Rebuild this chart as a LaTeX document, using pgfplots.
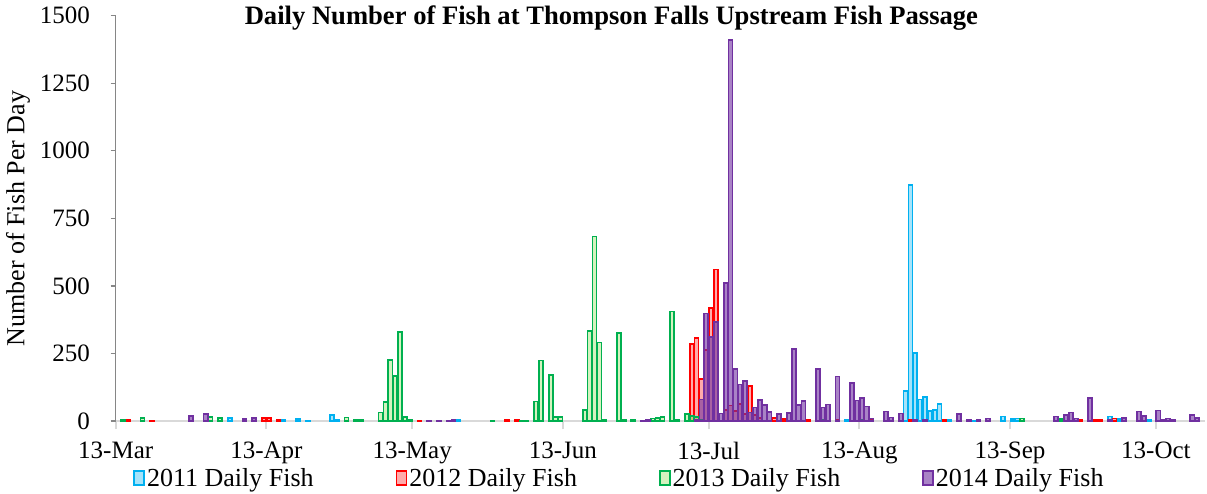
\documentclass[border=0pt]{standalone}
\usepackage{pgfplots}
\pgfplotsset{compat=1.18}
\usepackage{fontspec}
\setmainfont{Liberation Serif}
\definecolor{c11}{HTML}{00B0F0}
\definecolor{c12}{HTML}{FF0000}
\definecolor{c13}{HTML}{00B050}
\definecolor{c14}{HTML}{7030A0}
\definecolor{axgray}{HTML}{868686}
\definecolor{axlight}{HTML}{D9D9D9}
\begin{document}
\begin{tikzpicture}
\useasboundingbox (0,0) rectangle (1207pt,493pt);
\begin{axis}[
  at={(115.7pt,72pt)}, anchor=south west,
  scale only axis, width=1089.3pt, height=405.3pt,
  xmin=-0.5, xmax=223.6, ymin=0, ymax=1500,
  axis x line*=bottom, axis y line*=left,
  x axis line style={draw=axlight, line width=2.5pt},
  y axis line style={draw=axgray, line width=1.3pt},
  xtick={-0.5,30.5,60.5,91.5,121.5,152.5,183.5,213.5},
  xticklabels={13-Mar,13-Apr,13-May,13-Jun,13-Jul,13-Aug,13-Sep,13-Oct},
  ytick={0,250,500,750,1000,1250,1500},
  tick align=outside,
  xtick style={draw=axlight, line width=2pt, /pgfplots/major tick length=8pt},
  ytick style={draw=axgray, line width=1.3pt, /pgfplots/major tick length=5pt},
  /pgf/number format/assume math mode=true,
  /pgf/number format/1000 sep={},
  tick label style={font=\rmfamily\fontsize{25}{30}\selectfont},
  yticklabel style={xshift=-18pt},
  xticklabel style={yshift=-13pt},
  title={Daily Number of Fish at Thompson Falls Upstream Fish Passage},
  title style={at={(0.4551,0.9795)}, anchor=center, font=\rmfamily\bfseries\fontsize{26.6}{30}\selectfont},
  ylabel={Number of Fish Per Day},
  ylabel style={at={(-0.0897,0.4996)}, anchor=center, font=\rmfamily\fontsize{26}{30}\selectfont},
  legend style={at={(0.4625,-0.1406)}, anchor=center, draw=none, fill=none,
    font=\rmfamily\fontsize{26}{30}\selectfont,
    /tikz/every even column/.append style={column sep=80pt}},
  legend columns=4,
  legend image code/.code={\draw[#1] (0pt,-7pt) rectangle (10pt,7pt);},
]
\addplot[ybar, bar shift=0pt, bar width=0.84, draw=c11, fill=c11, fill opacity=0.35, line width=1.7pt] coordinates {
(23,12) (34,3) (37,8) (39,2) (44,22) (45,5) (70,3) (140,2) (150,3) (162,110) (163,873) (164,252) (165,80) (166,88) (167,36) (168,41) (169,64) (171,3) (176,2) (182,17) (184,8) (185,9) (204,17) (206,8) (212,3)
};
\addlegendentry{2011 Daily Fish}
\addplot[ybar, bar shift=0pt, bar width=0.84, draw=c12, fill=c12, fill opacity=0.33, line width=1.7pt] coordinates {
(1,2) (2,3) (7,2) (30,12) (31,10) (33,5) (62,2) (80,3) (82,3) (118,285) (119,308) (120,155) (121,262) (122,417) (123,561) (125,40) (126,57) (127,38) (128,63) (129,26) (130,130) (131,21) (132,12) (135,11) (137,8) (142,3) (148,5) (155,3) (163,5) (170,4) (198,3) (201,4) (202,4) (205,9)
};
\addlegendentry{2012 Daily Fish}
\addplot[ybar, bar shift=0pt, bar width=0.84, draw=c13, fill=c13!55!yellow, fill opacity=0.3, line width=1.7pt] coordinates {
(1,3) (5,12) (19,14) (21,12) (47,13) (49,3) (50,3) (54,32) (55,70) (56,225) (57,167) (58,330) (59,15) (60,3) (77,2) (83,2) (84,2) (86,72) (87,224) (89,171) (90,16) (91,16) (96,42) (97,332) (98,683) (99,290) (100,3) (103,326) (104,3) (106,3) (110,9) (111,12) (112,16) (114,405) (115,3) (117,26) (118,18) (119,14) (120,5) (145,3) (153,3) (186,9) (194,8)
};
\addlegendentry{2013 Daily Fish}
\addplot[ybar, bar shift=0pt, bar width=0.84, draw=c14, fill=c14, fill opacity=0.6, line width=1.7pt] coordinates {
(15,18) (18,27) (26,8) (28,10) (64,2) (66,2) (68,2) (69,3) (108,2) (109,3) (119,3) (120,80) (121,398) (122,312) (123,367) (124,28) (125,510) (126,1410) (127,193) (128,135) (129,147) (130,31) (131,50) (132,79) (133,59) (134,33) (136,27) (138,30) (139,267) (140,58) (141,73) (144,193) (145,50) (146,61) (148,165) (151,140) (152,76) (153,86) (154,54) (155,9) (158,35) (159,13) (161,28) (164,3) (166,3) (173,27) (175,3) (177,3) (179,9) (193,17) (195,22) (196,31) (197,9) (200,84) (204,5) (207,12) (210,35) (211,19) (214,39) (215,5) (216,9) (217,4) (221,23) (222,10)
};
\addlegendentry{2014 Daily Fish}
\end{axis}
\end{tikzpicture}
\end{document}
